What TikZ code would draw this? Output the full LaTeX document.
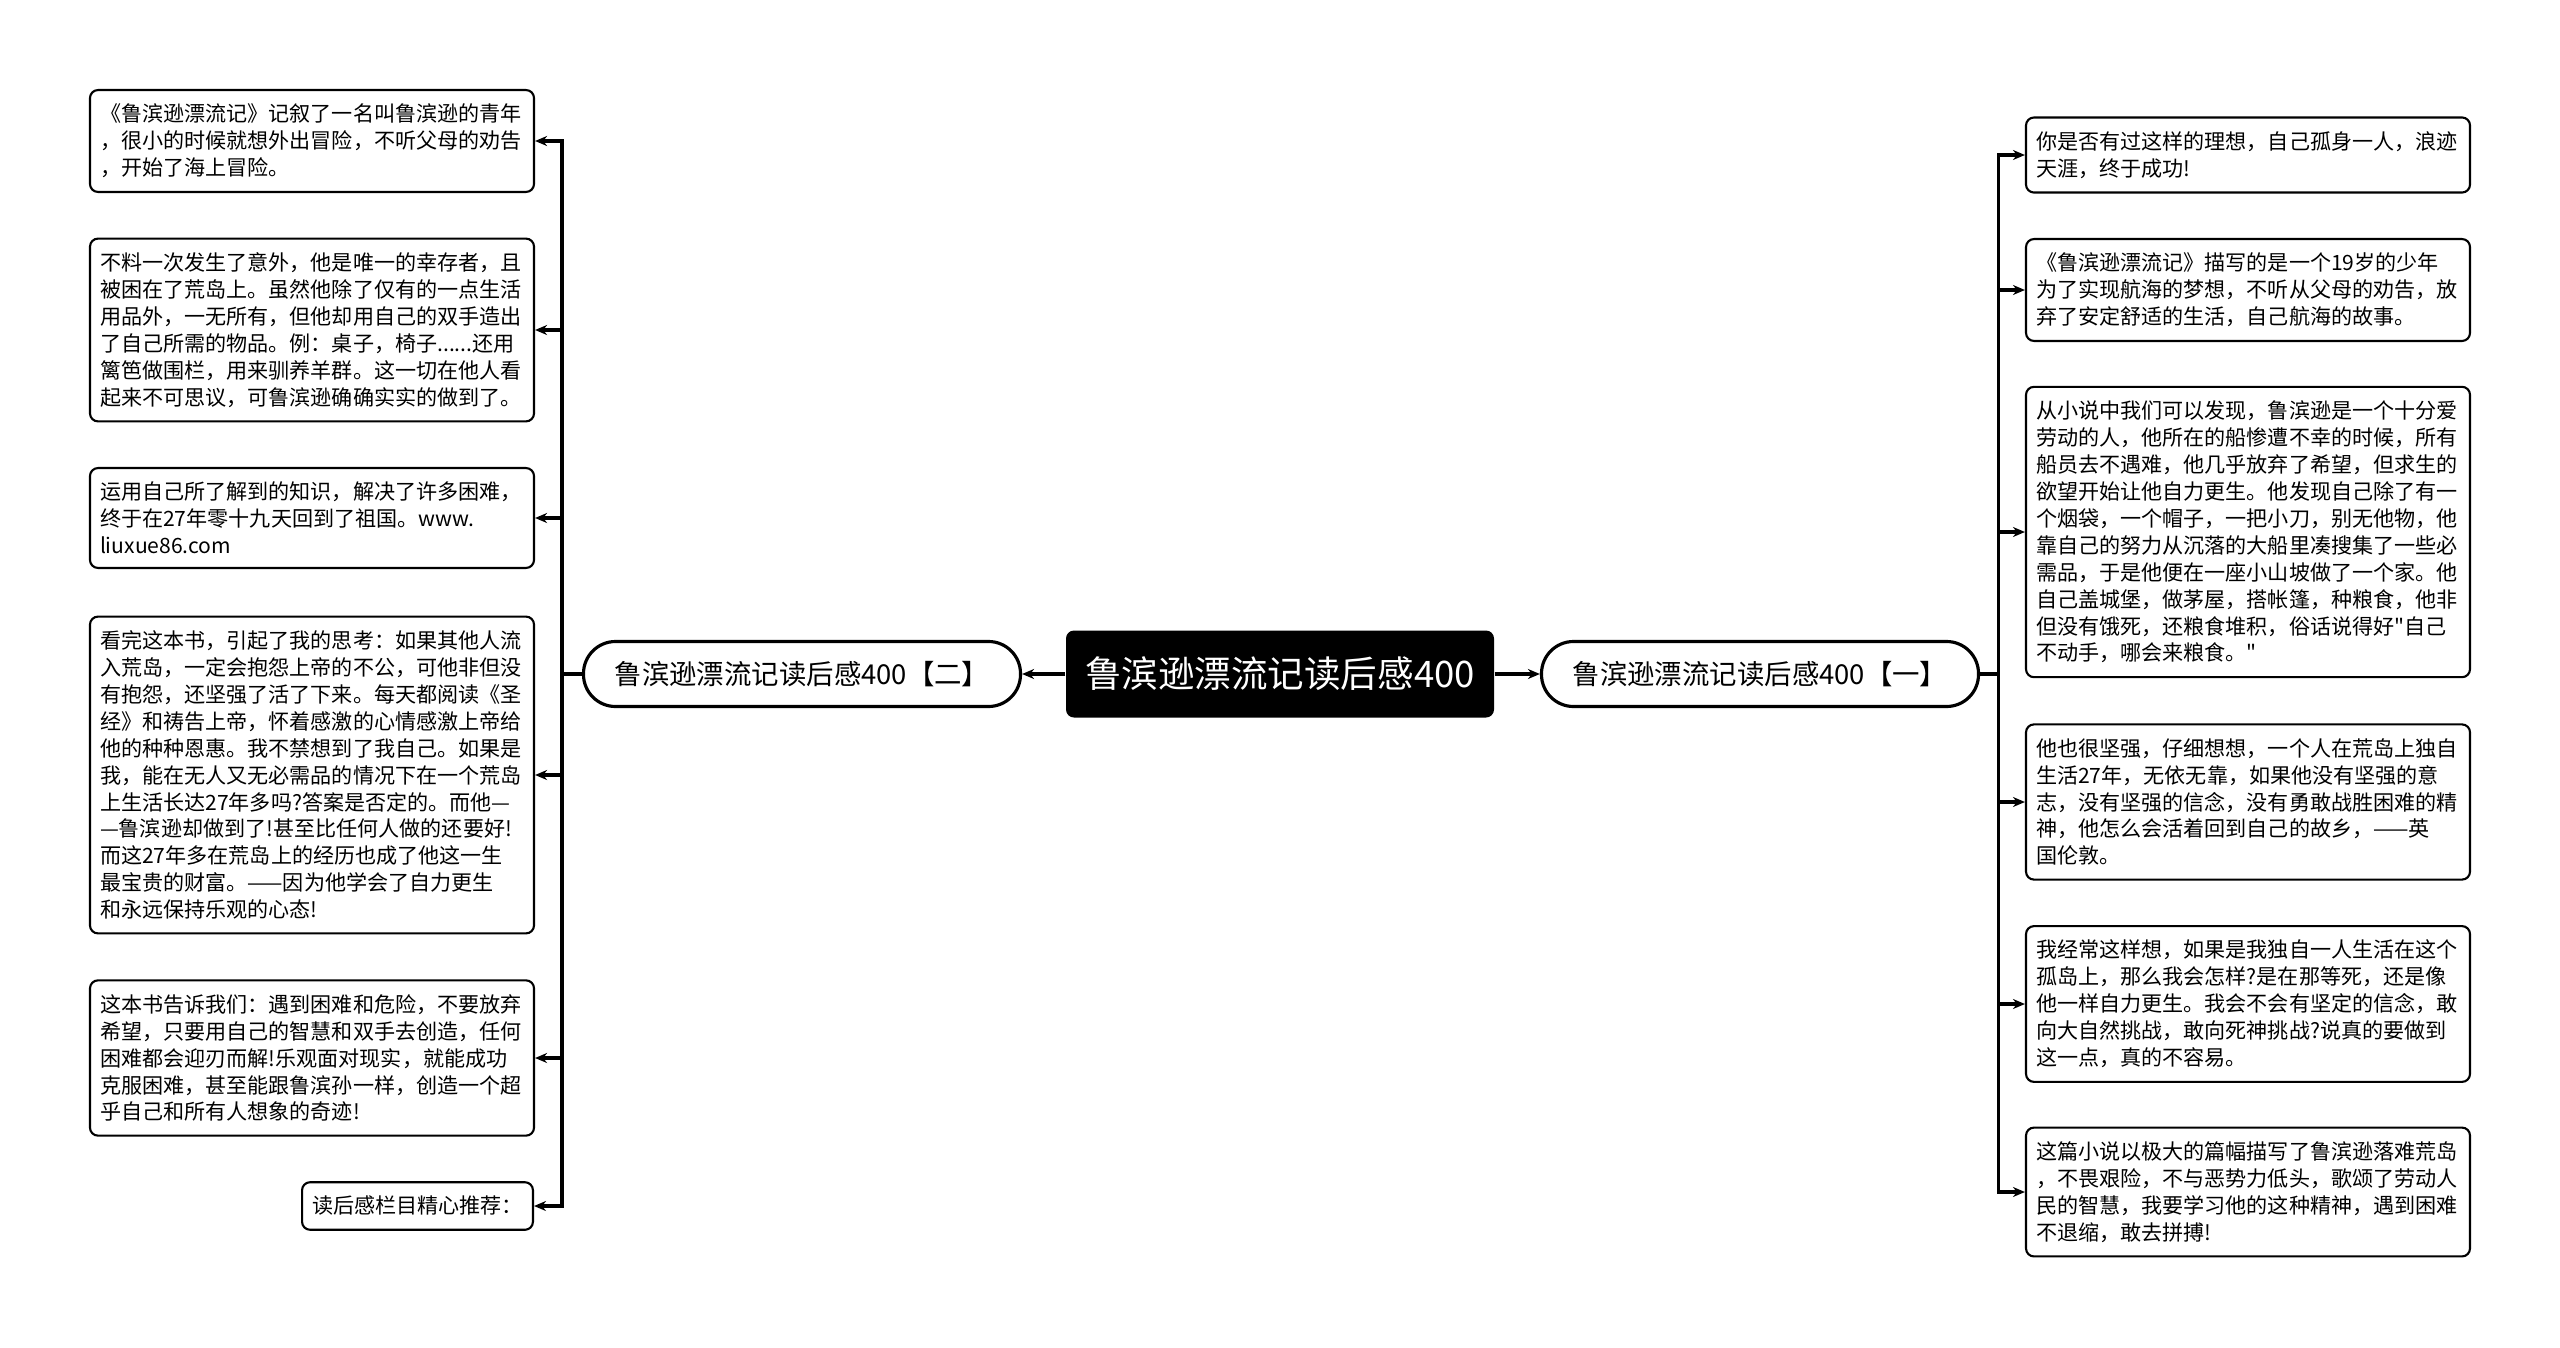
\documentclass[tikz,border=0pt]{standalone}
\usepackage{fontspec}
\newfontfamily\cjk{Noto Sans CJK SC}
\usetikzlibrary{arrows.meta}

\tikzset{
  box/.style={draw, rounded corners=0.08cm, line width=0.6pt, inner xsep=0.1cm, inner ysep=0.14cm, align=left, font=\cjk\fontsize{6}{7.66}\selectfont},
  leaf/.style={box, text width=4.24cm},
  topic/.style={draw, line width=0.9pt, rounded corners=0.32cm, minimum width=4.37cm, minimum height=0.65cm, font=\cjk\fontsize{7.8}{9}\selectfont},
  rootbox/.style={fill=black, text=white, rounded corners=0.08cm, minimum width=4.28cm, minimum height=0.87cm, font=\cjk\fontsize{10.4}{12}\selectfont},
  link/.style={-{Stealth[length=1.2mm,width=1mm]}, line width=0.9pt}
}

\begin{document}
\begin{tikzpicture}
      \useasboundingbox (0,0) rectangle (25.6,-13.48);
      \draw
        (12.80,-6.74) node[rootbox] (main){鲁滨逊漂流记读后感400}
        (8.02,-6.74) node[topic] (two){鲁滨逊漂流记读后感400【二】}
        (17.60,-6.74) node[topic] (one){鲁滨逊漂流记读后感400【一】};
      % left branch
      \draw
        (3.12,-1.41) node[leaf] (l1){《鲁滨逊漂流记》记叙了一名叫鲁滨逊的青年\\，很小的时候就想外出冒险，不听父母的劝告\\，开始了海上冒险。}
        (3.12,-3.30) node[leaf] (l2){不料一次发生了意外，他是唯一的幸存者，且\\被困在了荒岛上。虽然他除了仅有的一点生活\\用品外，一无所有，但他却用自己的双手造出\\了自己所需的物品。例：桌子，椅子......还用\\篱笆做围栏，用来驯养羊群。这一切在他人看\\起来不可思议，可鲁滨逊确确实实的做到了。}
        (3.12,-5.18) node[leaf] (l3){运用自己所了解到的知识，解决了许多困难，\\终于在27年零十九天回到了祖国。www.\\liuxue86.com}
        (3.12,-7.75) node[leaf] (l4){看完这本书，引起了我的思考：如果其他人流\\入荒岛，一定会抱怨上帝的不公，可他非但没\\有抱怨，还坚强了活了下来。每天都阅读《圣\\经》和祷告上帝，怀着感激的心情感激上帝给\\他的种种恩惠。我不禁想到了我自己。如果是\\我，能在无人又无必需品的情况下在一个荒岛\\上生活长达27年多吗?答案是否定的。而他—\\—鲁滨逊却做到了!甚至比任何人做的还要好!\\而这27年多在荒岛上的经历也成了他这一生\\最宝贵的财富。——因为他学会了自力更生\\和永远保持乐观的心态!}
        (3.12,-10.58) node[leaf] (l5){这本书告诉我们：遇到困难和危险，不要放弃\\希望，只要用自己的智慧和双手去创造，任何\\困难都会迎刃而解!乐观面对现实，就能成功\\克服困难，甚至能跟鲁滨孙一样，创造一个超\\乎自己和所有人想象的奇迹!}
        (5.34,-12.06) node[box, anchor=east] (l6){读后感栏目精心推荐：};
      % right branch
      \draw
        (22.48,-1.55) node[leaf] (r1){你是否有过这样的理想，自己孤身一人，浪迹\\天涯，终于成功!}
        (22.48,-2.90) node[leaf] (r2){《鲁滨逊漂流记》描写的是一个19岁的少年\\为了实现航海的梦想，不听从父母的劝告，放\\弃了安定舒适的生活，自己航海的故事。}
        (22.48,-5.32) node[leaf] (r3){从小说中我们可以发现，鲁滨逊是一个十分爱\\劳动的人，他所在的船惨遭不幸的时候，所有\\船员去不遇难，他几乎放弃了希望，但求生的\\欲望开始让他自力更生。他发现自己除了有一\\个烟袋，一个帽子，一把小刀，别无他物，他\\靠自己的努力从沉落的大船里凑搜集了一些必\\需品，于是他便在一座小山坡做了一个家。他\\自己盖城堡，做茅屋，搭帐篷，种粮食，他非\\但没有饿死，还粮食堆积，俗话说得好"自己\\不动手，哪会来粮食。"}
        (22.48,-8.02) node[leaf] (r4){他也很坚强，仔细想想，一个人在荒岛上独自\\生活27年，无依无靠，如果他没有坚强的意\\志，没有坚强的信念，没有勇敢战胜困难的精\\神，他怎么会活着回到自己的故乡，——英\\国伦敦。}
        (22.48,-10.04) node[leaf] (r5){我经常这样想，如果是我独自一人生活在这个\\孤岛上，那么我会怎样?是在那等死，还是像\\他一样自力更生。我会不会有坚定的信念，敢\\向大自然挑战，敢向死神挑战?说真的要做到\\这一点，真的不容易。}
        (22.48,-11.92) node[leaf] (r6){这篇小说以极大的篇幅描写了鲁滨逊落难荒岛\\，不畏艰险，不与恶势力低头，歌颂了劳动人\\民的智慧，我要学习他的这种精神，遇到困难\\不退缩，敢去拼搏!};
      \begin{scope}[link]
        \draw (main) to (two);
        \draw (main) to (one);
        \draw (two.west) -- ++(-0.2,0) |- (l1.east);
        \draw (two.west) -- ++(-0.2,0) |- (l2.east);
        \draw (two.west) -- ++(-0.2,0) |- (l3.east);
        \draw (two.west) -- ++(-0.2,0) |- (l4.east);
        \draw (two.west) -- ++(-0.2,0) |- (l5.east);
        \draw (two.west) -- ++(-0.2,0) |- (l6.east);
        \draw (one.east) -- ++(0.18,0) |- (r1.west);
        \draw (one.east) -- ++(0.18,0) |- (r2.west);
        \draw (one.east) -- ++(0.18,0) |- (r3.west);
        \draw (one.east) -- ++(0.18,0) |- (r4.west);
        \draw (one.east) -- ++(0.18,0) |- (r5.west);
        \draw (one.east) -- ++(0.18,0) |- (r6.west);
      \end{scope}
    \end{tikzpicture}
\end{document}
